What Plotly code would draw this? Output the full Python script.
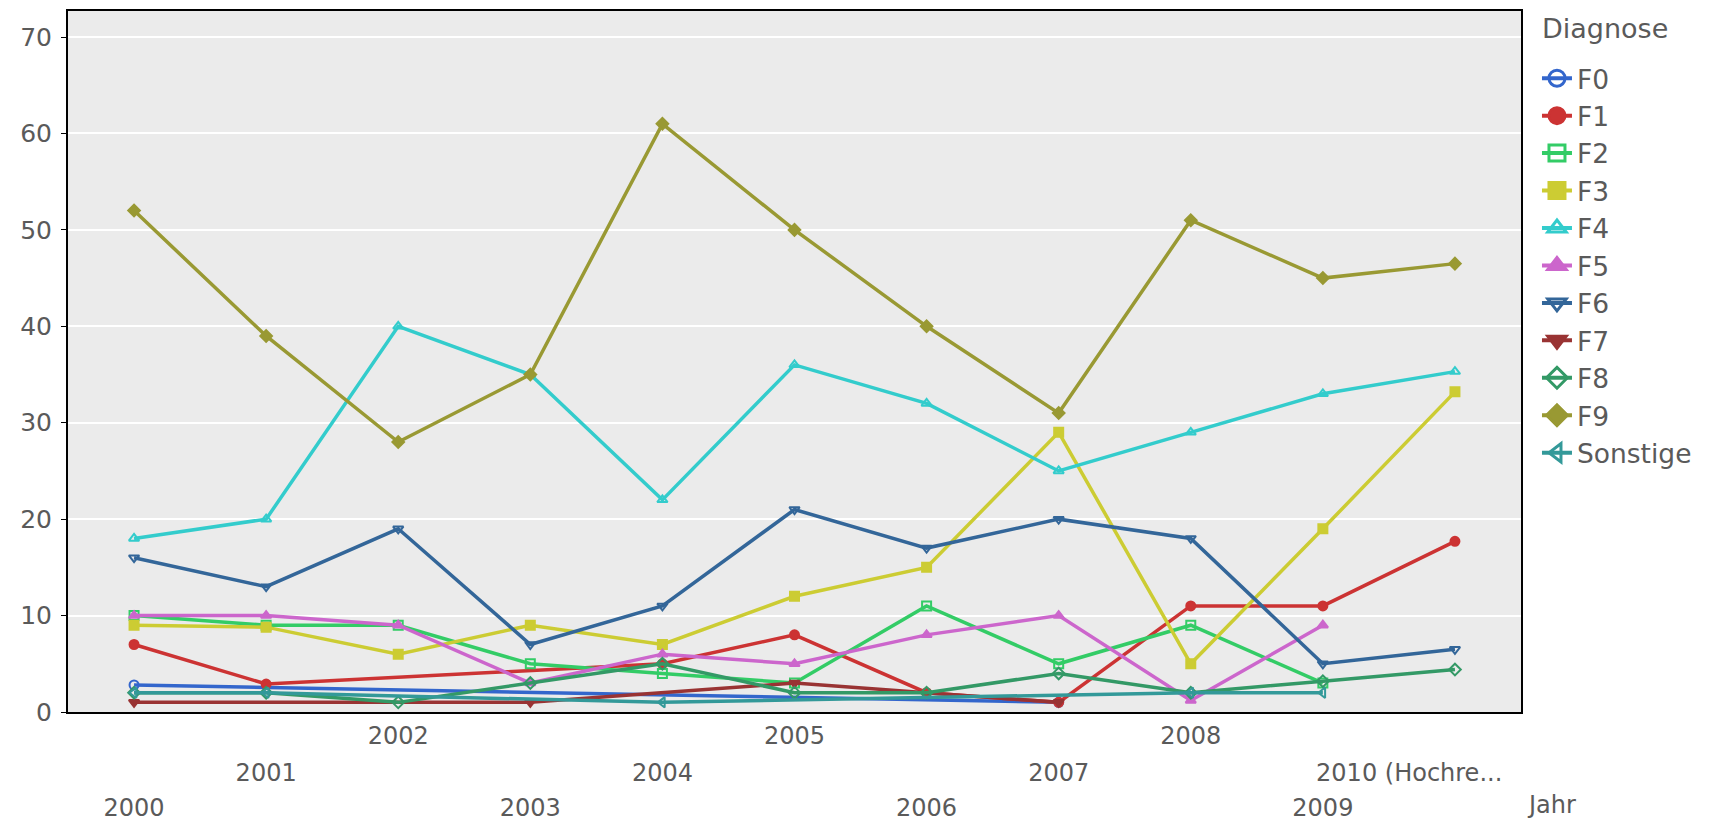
import plotly.graph_objects as go

years = ["2000", "2001", "2002", "2003", "2004", "2005", "2006", "2007", "2008", "2009", "2010"]
tick_labels = ["2000", "2001", "2002", "2003", "2004", "2005", "2006", "2007", "2008", "2009",
               "2010 (Hochre..." + "\u00a0" * 12]

F0 = [2.8, None, None, None, None, None, None, 1, None, None, None]
F1 = [7, 2.9, None, None, 5, 8, 2, 1, 11, 11, 17.7]
F2 = [10, 9, 9, 5, 4, 3, 11, 5, 9, 3, None]
F3 = [9, 8.8, 6, 9, 7, 12, 15, 29, 5, 19, 33.2]
F4 = [18, 20, 40, 35, 22, 36, 32, 25, 29, 33, 35.3]
F5 = [10, 10, 9, 3, 6, 5, 8, 10, 1.2, 9, None]
F6 = [16, 13, 19, 7, 11, 21, 17, 20, 18, 5, 6.5]
F7 = [1, None, None, 1, None, 3, None, 1, None, None, None]
F8 = [2, 2, 1, 3, 5, 2, 2, 4, 2, 3.2, 4.4]
F9 = [52, 39, 28, 35, 61, 50, 40, 31, 51, 45, 46.5]
Sonstige = [2, 2, None, None, 1, None, None, None, 2, 2, None]

series = [
    ("F0", F0, "#3366cc", "circle-open"),
    ("F1", F1, "#cc3333", "circle"),
    ("F2", F2, "#33cc66", "square-open"),
    ("F3", F3, "#cccc33", "square"),
    ("F4", F4, "#33cccc", "triangle-up-open"),
    ("F5", F5, "#cc66cc", "triangle-up"),
    ("F6", F6, "#336699", "triangle-down-open"),
    ("F7", F7, "#993333", "triangle-down"),
    ("F8", F8, "#339966", "diamond-open"),
    ("F9", F9, "#999933", "diamond"),
    ("Sonstige", Sonstige, "#339999", "triangle-left-open"),
]

FONT = "DejaVu Sans, Liberation Sans, sans-serif"
GRAY = "#5a5a5a"
xpos = list(range(len(years)))

fig = go.Figure()
for name, vals, col, sym in series:
    fig.add_trace(go.Scatter(
        x=xpos, y=vals, name=name, mode="lines+markers", connectgaps=True,
        line=dict(color=col, width=3.5),
        marker=dict(symbol=sym, size=9, color=col, line=dict(color=col, width=2)),
        showlegend=False,
    ))
# legend entries with larger symbols (also anchor the overlay tick-row axes)
axes_for_dummy = ["x", "x", "x", "x", "x2", "x2", "x2", "x2", "x3", "x3", "x3"]
for (name, vals, col, sym), xa in zip(series, axes_for_dummy):
    fig.add_trace(go.Scatter(
        x=[None], y=[None], name=name, mode="lines+markers", xaxis=xa,
        line=dict(color=col, width=4),
        marker=dict(symbol=sym, size=16, color=col, line=dict(color=col, width=3)),
        showlegend=True,
    ))

rows = [[i for i in xpos if i % 3 == r] for r in range(3)]  # row order: 2002.., 2001.., 2000..

common = dict(type="linear", range=[-0.5, 10.5], tickmode="array",
              showgrid=False, zeroline=False, ticks="")
fig.update_layout(
    width=1731, height=822,
    margin=dict(l=60, r=218, t=1, b=118),
    paper_bgcolor="white", plot_bgcolor="#ebebeb",
    font=dict(family=FONT, color=GRAY, size=24),
    showlegend=True,
    legend=dict(
        font=dict(size=26.5, color=GRAY, family=FONT),
        x=1.011, y=0.938, xanchor="left", yanchor="top",
        bgcolor="rgba(0,0,0,0)", itemwidth=30,
    ),
    xaxis=dict(
        **common, tickvals=rows[2], ticktext=[tick_labels[i] for i in rows[2]],
        showline=True, mirror=True, linecolor="black", linewidth=2,
        tickfont=dict(size=24, color=GRAY), ticklabelstandoff=1,
    ),
    xaxis2=dict(
        **common, overlaying="x", anchor="y", side="bottom",
        tickvals=rows[1], ticktext=[tick_labels[i] for i in rows[1]], showline=False,
        tickfont=dict(size=24, color=GRAY), ticklabelstandoff=44,
    ),
    xaxis3=dict(
        **common, overlaying="x", anchor="y", side="bottom",
        tickvals=rows[0], ticktext=[tick_labels[i] for i in rows[0]], showline=False,
        tickfont=dict(size=24, color=GRAY), ticklabelstandoff=79,
    ),
    yaxis=dict(
        range=[0, 72.7], tickvals=[0, 10, 20, 30, 40, 50, 60, 70],
        showgrid=True, gridcolor="white", gridwidth=2, zeroline=False,
        ticks="outside", ticklen=5, tickcolor="black",
        showline=True, mirror=True, linecolor="black", linewidth=2,
        tickfont=dict(size=25, color=GRAY), ticklabelstandoff=4,
    ),
)

fig.add_annotation(text="Diagnose", xref="paper", yref="paper", x=1.013, y=0.975,
                   xanchor="left", yanchor="middle", showarrow=False,
                   font=dict(size=27, color=GRAY))
fig.add_annotation(text="Jahr", xref="paper", yref="paper", x=1.021, y=-0.132,
                   xanchor="center", yanchor="middle", showarrow=False,
                   font=dict(size=24, color=GRAY))

fig.write_html("out.html")
